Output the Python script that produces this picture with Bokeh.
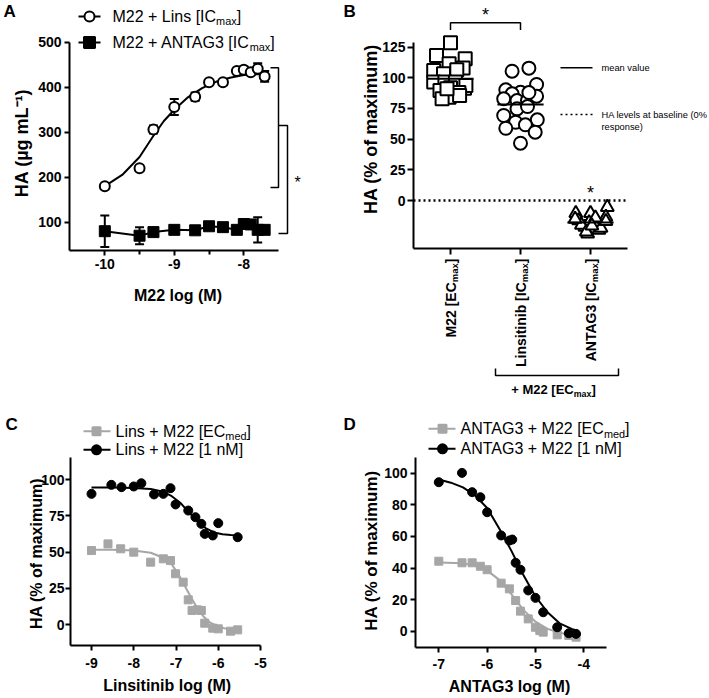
import numpy as np
from math import pi
from bokeh.plotting import figure
from bokeh.models import Range1d, FixedTicker, Label, Whisker, TeeHead, ColumnDataSource
from bokeh.layouts import column, row
from bokeh.embed import file_html
from bokeh.resources import INLINE

FONT = "Liberation Sans"
GREY = "#a6a6a6"
SUB = 0.68

# ---------------- Panel A data ----------------
a_log_m22 = [-10.0, -9.5, -9.3, -9.0, -8.7, -8.5, -8.3, -8.1, -8.0, -7.9, -7.8, -7.7]
a_lins_ha = [180, 220, 306, 356, 379, 411, 411, 436, 439, 433, 441, 424]
a_lins_err = [0, 6, 9, 18, 9, 4, 0, 0, 7, 0, 12, 12]
a_antag_ha = [80, 70, 78, 83, 82, 91, 89, 83, 96, 95, 83, 83]
a_antag_err = [35, 19, 4, 4, 3, 4, 4, 3, 4, 3, 28, 4]
a_fit_log = [-10.0, -9.75, -9.5, -9.3, -9.15, -9.0, -8.8, -8.6, -8.4, -8.2, -8.0, -7.8, -7.7]
a_fit_ha = [180, 205, 245, 292, 325, 350, 378, 398, 412, 421, 427, 430, 431]
a_xticks = [-10, -9, -8]
a_xminor = [-9.5, -8.5]
a_yticks = [100, 200, 300, 400, 500]
a_sig_lins = [443, 177]
a_sig_join = [315, 75]
a_legend = [[("M22 + Lins [IC", False), ("max", True), ("]", False)],
            [("M22 + ANTAG3 [IC", False), ("max", True), ("]", False)]]

# ---------------- Panel B data ----------------
b_tick_main = ["M22 [EC", "Linsitinib [IC", "ANTAG3 [IC"]
b_tick_sub = ["max", "max", "max"]
b_m22 = [128.6, 118.2, 115.5, 111.4, 108.0, 106.0, 103.3, 106.5, 91.5, 96.5,
         96.5, 96.5, 93.7, 89.7, 92.0, 88.0, 84.2, 85.6, 82.9, 91.0]
b_m22_jit = [0.0, -0.20, 0.21, -0.02, 0.18, -0.24, -0.10, 0.09, 0.20, -0.24,
             -0.08, 0.07, 0.22, -0.15, 0.0, 0.12, -0.02, 0.13, -0.12, -0.05]
b_lins = [105.4, 107.9, 90.2, 88.3, 94.6, 87.0, 82.9, 81.5, 81.5, 85.0,
          69.3, 74.7, 76.6, 65.8, 63.8, 58.9, 61.7, 55.7, 46.7, 88.0]
b_lins_jit = [-0.12, 0.12, -0.21, 0.0, 0.23, -0.12, -0.24, -0.05, 0.10, 0.23,
              -0.24, -0.05, 0.10, 0.24, -0.07, -0.21, 0.07, 0.21, 0.0, 0.12]
b_antag = [-10.3, -10.3, -5.4, -16.3, -21.7, -23.0, -19.3, -16.8, -18.0, -27.2,
           -24.0, -13.5, -20.0, -15.0, -18.5, -22.5, -17.0, -25.5, -14.0, -20.5]
b_antag_jit = [-0.21, 0.0, 0.24, -0.17, -0.08, 0.0, 0.09, 0.19, -0.02, -0.04,
               0.12, 0.22, -0.13, -0.22, 0.05, 0.15, 0.22, -0.06, 0.07, 0.02]
b_yticks = [0, 25, 50, 75, 100, 125]
b_sig_top = 145
b_sig_drop = 139

# ---------------- Panel C data ----------------
c_log_1nm = [-9.0, -8.53, -8.29, -8.0, -7.82, -7.52, -7.30, -7.13, -7.01, -6.71, -6.54, -6.40, -6.32, -6.13, -6.0, -5.54]
c_ha_1nm = [90.1, 96.3, 94.7, 95.2, 97.4, 89.7, 90.1, 94.0, 82.8, 78.6, 74.0, 69.4, 62.5, 61.4, 69.9, 60.2]
c_log_med = [-9.0, -8.61, -8.31, -8.0, -7.60, -7.30, -7.13, -7.01, -6.83, -6.71, -6.62, -6.50, -6.40, -6.32, -6.13, -6.0, -5.71, -5.54]
c_ha_med = [51.0, 55.6, 52.2, 49.9, 43.0, 45.3, 44.1, 35.0, 29.2, 17.0, 9.7, 10.1, 9.7, 0.9, -2.5, -3.0, -4.6, -3.7]
c_fit_log_1nm = [-9.0, -8.5, -8.0, -7.6, -7.3, -7.1, -6.9, -6.7, -6.5, -6.3, -6.1, -5.9, -5.7, -5.54]
c_fit_ha_1nm = [94.5, 94.5, 94.2, 93.5, 91.5, 88.5, 84.0, 77.5, 71.5, 66.5, 63.5, 62.3, 61.8, 61.5]
c_fit_log_med = [-9.0, -8.5, -8.0, -7.6, -7.3, -7.1, -6.95, -6.8, -6.65, -6.5, -6.35, -6.2, -6.0, -5.8, -5.54]
c_fit_ha_med = [51.5, 51.5, 51.0, 49.5, 46.0, 41.5, 35.0, 27.0, 19.0, 11.5, 5.5, 1.5, -1.5, -3.0, -3.8]
c_xticks = [-9, -8, -7, -6, -5]
c_yticks = [0, 25, 50, 75, 100]
c_legend = [[("Lins + M22 [EC", False), ("med", True), ("]", False)],
            [("Lins + M22 [1 nM]", False)]]

# ---------------- Panel D data ----------------
d_log_1nm = [-7.0, -6.52, -6.31, -6.14, -6.0, -5.71, -5.54, -5.48, -5.41, -5.31, -5.15, -5.0, -4.84, -4.55, -4.31, -4.16]
d_ha_1nm = [94.3, 100.2, 88.0, 84.8, 75.3, 60.6, 57.4, 58.0, 43.3, 38.9, 25.8, 21.1, 12.0, 2.5, -1.3, -1.7]
d_log_med = [-7.0, -6.52, -6.31, -6.14, -6.0, -5.71, -5.54, -5.41, -5.31, -5.15, -5.0, -4.91, -4.84, -4.55, -4.31, -4.16]
d_ha_med = [44.3, 43.3, 43.3, 41.1, 38.9, 30.4, 26.8, 19.4, 12.7, 7.8, 2.5, 0.4, -0.6, -2.3, -2.7, -3.8]
d_fit_log_1nm = [-7.0, -6.75, -6.5, -6.25, -6.0, -5.75, -5.5, -5.25, -5.0, -4.75, -4.5, -4.25, -4.1]
d_fit_ha_1nm = [96.0, 94.0, 91.0, 86.0, 78.0, 65.0, 51.0, 35.5, 22.0, 12.0, 5.0, 1.5, 0.0]
d_fit_log_med = [-7.0, -6.5, -6.25, -6.0, -5.75, -5.5, -5.25, -5.0, -4.75, -4.5, -4.25, -4.1]
d_fit_ha_med = [43.5, 43.0, 41.5, 38.5, 32.5, 23.5, 13.5, 6.0, 1.5, -1.0, -2.5, -3.0]
d_xticks = [-7, -6, -5, -4]
d_yticks = [0, 20, 40, 60, 80, 100]
d_legend = [[("ANTAG3 + M22 [EC", False), ("med", True), ("]", False)],
            [("ANTAG3 + M22 [1 nM]", False)]]

# ---------------- helpers ----------------
REG = {" ": 278, "+": 584, "[": 278, "]": 278, "(": 333, ")": 333, "%": 889, "-": 333,
       "A": 667, "C": 722, "E": 667, "G": 778, "H": 722, "I": 278, "L": 556, "M": 833,
       "N": 722, "T": 611, "a": 556, "b": 556, "d": 556, "e": 556, "i": 222, "l": 222,
       "m": 833, "n": 556, "o": 556, "p": 556, "r": 333, "s": 500, "t": 278, "u": 556,
       "v": 500, "x": 500}
BLD = {" ": 278, "+": 584, "[": 333, "]": 333, "(": 333, ")": 333, "%": 889, "-": 333,
       "A": 722, "C": 722, "E": 667, "G": 778, "H": 722, "I": 278, "L": 611, "M": 833,
       "N": 722, "T": 611, "a": 556, "b": 611, "d": 611, "e": 556, "i": 278, "l": 278,
       "m": 889, "n": 611, "o": 611, "s": 556, "t": 333, "x": 556}
KERN = {"TA": -70, "AT": -70}


def tw(s, size, bold):
    t = BLD if bold else REG
    w = sum(t.get(ch, 556) for ch in s)
    w += sum(KERN.get(s[k:k + 2], 0) for k in range(len(s) - 1))
    return w * size / 1000.0


class Geo:
    """maps reference pixel positions to data values of one panel"""
    def __init__(self, xpx, xval, xs, ypx, yval, ys):
        self.xpx, self.xval, self.xs = xpx, xval, xs
        self.ypx, self.yval, self.ys = ypx, yval, ys

    def x(self, px):
        return self.xval + (px - self.xpx) / self.xs

    def y(self, py):
        return self.yval + (self.ypx - py) / self.ys


def make_fig(g, cl, ct, w, h):
    p = figure(width=w, height=h, output_backend="svg", toolbar_location=None,
               x_range=Range1d(g.x(cl), g.x(cl + w)), y_range=Range1d(g.y(ct + h), g.y(ct)),
               min_border_left=0, min_border_right=0, min_border_top=0, min_border_bottom=0)
    p.grid.visible = False
    p.outline_line_color = None
    p.background_fill_color = "white"
    p.border_fill_color = "white"
    return p


def style(p, g, xticks, yticks, axis_x_px, axis_y_px, xend_px, ytop_px, xminor=(),
          xstand=2, ystand=2, tick_out=5):
    p.xaxis.ticker = FixedTicker(ticks=list(xticks), minor_ticks=list(xminor))
    p.yaxis.ticker = FixedTicker(ticks=list(yticks))
    p.xaxis.fixed_location = g.y(axis_y_px)
    p.yaxis.fixed_location = g.x(axis_x_px)
    p.xaxis.bounds = (g.x(axis_x_px), g.x(xend_px))
    p.yaxis.bounds = (g.y(axis_y_px), g.y(ytop_px))
    p.xaxis.major_label_overrides = {t: f"{t:g}" for t in xticks}
    p.yaxis.major_label_overrides = {t: f"{t:g}" for t in yticks}
    for ax in (p.xaxis[0], p.yaxis[0]):
        ax.axis_line_width = 2
        ax.axis_line_color = "black"
        ax.major_tick_line_width = 2
        ax.major_tick_line_color = "black"
        ax.major_tick_in = 0
        ax.major_tick_out = tick_out
        ax.minor_tick_line_width = 2
        ax.minor_tick_line_color = "black"
        ax.minor_tick_in = 0
        ax.minor_tick_out = 4
        ax.major_label_text_font = FONT
        ax.major_label_text_font_style = "bold"
        ax.major_label_text_font_size = "14px"
        ax.major_label_text_color = "black"
    p.xaxis.major_label_standoff = xstand
    p.yaxis.major_label_standoff = ystand


def rich(p, x, y, pieces, size, bold=False, vertical=False, dx=0.0, dy=0.0):
    """text pieces centred (middle) on the main line; subscripts drop below"""
    adv = 0.0
    for s, sub in pieces:
        fs = size * SUB if sub else size
        shift = 0.31 * size if sub else 0.0
        kw = dict(x=x, y=y, text=s, text_font=FONT, text_font_size=f"{fs:.2f}px",
                  text_font_style="bold" if bold else "normal", text_color="black",
                  text_align="left", text_baseline="middle")
        if vertical:
            p.add_layout(Label(x_offset=dx + shift, y_offset=dy + adv, angle=pi / 2, **kw))
        else:
            p.add_layout(Label(x_offset=dx + adv, y_offset=dy - shift, **kw))
        adv += tw(s, fs, bold)
    return adv


def rich_width(pieces, size, bold):
    return sum(tw(s, size * SUB if sub else size, bold) for s, sub in pieces)


def plain(p, x, y, s, size, bold=False, align="left", angle=0.0):
    p.add_layout(Label(x=x, y=y, text=s, text_font=FONT, text_font_size=f"{size}px",
                       text_font_style="bold" if bold else "normal", text_color="black",
                       text_align=align, text_baseline="middle", angle=angle))


def whisk(p, xs, ys, es):
    xs, ys, es = (np.asarray(v, dtype=float) for v in (xs, ys, es))
    m = es > 0
    src = ColumnDataSource(dict(x=xs[m], lo=ys[m] - es[m], hi=ys[m] + es[m]))
    w = Whisker(source=src, base="x", lower="lo", upper="hi", line_width=2, line_color="black",
                upper_head=TeeHead(size=9, line_width=2, line_color="black"),
                lower_head=TeeHead(size=9, line_width=2, line_color="black"), level="underlay")
    p.add_layout(w)


def legend_row(p, g, ypx, x0, x1, xm, xt, marker, msize, color, fill, pieces, fsize):
    yv = g.y(ypx)
    p.line([g.x(x0), g.x(x1)], [yv, yv], line_color=color, line_width=2)
    p.scatter([g.x(xm)], [yv], marker=marker, size=msize, line_color=color,
              fill_color=fill, line_width=2)
    rich(p, g.x(xt), yv, pieces, fsize)


# ---------------- Panel A ----------------
gA = Geo(104.3, -10.0, 69.5, 221.7, 100.0, 0.45)
pA = make_fig(gA, 0, 0, 340, 400)
style(pA, gA, a_xticks, a_yticks, 69, 250, 278, 41.7, xminor=a_xminor, xstand=3, ystand=3)
whisk(pA, a_log_m22, a_lins_ha, a_lins_err)
whisk(pA, a_log_m22, a_antag_ha, a_antag_err)
pA.line(a_fit_log, a_fit_ha, line_color="black", line_width=2)
pA.line(a_log_m22, a_antag_ha, line_color="black", line_width=2)
pA.scatter(a_log_m22, a_antag_ha, marker="square", size=11, fill_color="black", line_color="black")
pA.scatter(a_log_m22, a_lins_ha, marker="circle", size=10, fill_color="white", line_color="black", line_width=2)
xi, xb1, xb2 = gA.x(270), gA.x(278), gA.x(287)
pA.line([xi, xb1, xb1, xi], [a_sig_lins[0], a_sig_lins[0], a_sig_lins[1], a_sig_lins[1]],
        line_color="black", line_width=1.5)
pA.line([xb1, xb2, xb2, xb1], [a_sig_join[0], a_sig_join[0], a_sig_join[1], a_sig_join[1]],
        line_color="black", line_width=1.5)
plain(pA, gA.x(297), gA.y(181.5), "*", 16, align="center")
legend_row(pA, gA, 16, 78, 100, 89, 112, "circle", 10, "black", "white", a_legend[0], 16)
legend_row(pA, gA, 42, 78, 100, 89, 112, "square", 11, "black", "black", a_legend[1], 16)
plain(pA, gA.x(3), gA.y(11), "A", 17, bold=True)
plain(pA, gA.x(177.5), gA.y(294.5), "M22 log (M)", 16, bold=True, align="center")
plain(pA, gA.x(21.5), gA.y(142.5), "HA (µg mL⁻¹)", 18, bold=True, align="center", angle=pi / 2)

# ---------------- Panel B ----------------
gB = Geo(450, 0.0, 70, 200, 0.0, 1.2267)
pB = make_fig(gB, 340, 0, 368, 400)
style(pB, gB, [0, 1, 2], b_yticks, 413, 248, 627, 41.7, ystand=2, tick_out=6)
pB.xaxis.major_label_overrides = {0: "", 1: "", 2: ""}
pB.segment(x0=[gB.x(413)], y0=[0], x1=[gB.x(625)], y1=[0], line_color="black",
           line_width=2.5, line_dash="2 3")
groups = [(b_m22, b_m22_jit, "square"), (b_lins, b_lins_jit, "circle"), (b_antag, b_antag_jit, "triangle")]
for i, (vals, jit, mk) in enumerate(groups):
    xs = [i + j for j in jit]
    pB.scatter(xs, vals, marker=mk, size=13, fill_color="white", line_color="black", line_width=2)
for i, (vals, jit, mk) in enumerate(groups):
    m = float(np.mean(vals))
    pB.segment(x0=[i - 0.33], y0=[m], x1=[i + 0.33], y1=[m], line_color="black", line_width=2)
pB.line([0, 0, 1, 1], [b_sig_drop, b_sig_top, b_sig_top, b_sig_drop], line_color="black", line_width=1.5)
plain(pB, 0.5, gB.y(14), "*", 18, align="center")
plain(pB, 2, gB.y(192), "*", 18, align="center")
for i in range(3):
    pieces = [(b_tick_main[i], False), (b_tick_sub[i], True), ("]", False)]
    tot = rich_width(pieces, 14, True)
    rich(pB, i, gB.y(258), pieces, 14, bold=True, vertical=True, dx=0, dy=-tot)
bx0, bx1 = gB.x(495), gB.x(618)
by0, by1 = gB.y(368), gB.y(375)
pB.line([bx0, bx0, bx1, bx1], [by0, by1, by1, by0], line_color="black", line_width=1.5)
bp = [("+ M22 [EC", False), ("max", True), ("]", False)]
bw = rich_width(bp, 13, True)
rich(pB, gB.x(553 - bw / 2), gB.y(389), bp, 13, bold=True)
pB.segment(x0=[gB.x(560)], y0=[gB.y(67.3)], x1=[gB.x(592)], y1=[gB.y(67.3)], line_color="black", line_width=1.5)
pB.segment(x0=[gB.x(560)], y0=[gB.y(114)], x1=[gB.x(592)], y1=[gB.y(114)], line_color="black",
           line_width=1.5, line_dash="2 3")
plain(pB, gB.x(601), gB.y(67.3), "mean value", 9.3)
plain(pB, gB.x(601), gB.y(114), "HA levels at baseline (0%", 9.3)
plain(pB, gB.x(601), gB.y(126), "response)", 9.3)
plain(pB, gB.x(343), gB.y(11), "B", 17, bold=True)
plain(pB, gB.x(370.5), gB.y(128.5), "HA (% of maximum)", 18, bold=True, align="center", angle=pi / 2)

# ---------------- Panel C ----------------
gC = Geo(91, -9.0, 42.25, 624, 0.0, 1.45)
pC = make_fig(gC, 0, 400, 340, 297)
style(pC, gC, c_xticks, c_yticks, 70, 645, 260, 456.7, xstand=7, ystand=1)
pC.line(c_fit_log_med, c_fit_ha_med, line_color=GREY, line_width=2)
pC.line(c_fit_log_1nm, c_fit_ha_1nm, line_color="black", line_width=2)
pC.scatter(c_log_med, c_ha_med, marker="square", size=8, fill_color=GREY, line_color=GREY)
pC.scatter(c_log_1nm, c_ha_1nm, marker="circle", size=9, fill_color="black", line_color="black")
legend_row(pC, gC, 430.7, 83, 110, 96, 115, "square", 8, GREY, GREY, c_legend[0], 16)
legend_row(pC, gC, 449.3, 83, 110, 96, 115, "circle", 9, "black", "black", c_legend[1], 16)
plain(pC, gC.x(5), gC.y(424), "C", 17, bold=True)
plain(pC, gC.x(166.7), gC.y(684.5), "Linsitinib log (M)", 16, bold=True, align="center")
plain(pC, gC.x(35.5), gC.y(553), "HA (% of maximum)", 16, bold=True, align="center", angle=pi / 2)

# ---------------- Panel D ----------------
gD = Geo(438.3, -7.0, 48.33, 630.7, 0.0, 1.58)
pD = make_fig(gD, 340, 400, 368, 297)
style(pD, gD, d_xticks, d_yticks, 415, 646.7, 605.7, 456.7, xstand=7, ystand=3)
pD.line(d_fit_log_med, d_fit_ha_med, line_color=GREY, line_width=2)
pD.line(d_fit_log_1nm, d_fit_ha_1nm, line_color="black", line_width=2)
pD.scatter(d_log_med, d_ha_med, marker="square", size=8, fill_color=GREY, line_color=GREY)
pD.scatter(d_log_1nm, d_ha_1nm, marker="circle", size=9, fill_color="black", line_color="black")
legend_row(pD, gD, 428.3, 428, 455, 442, 460, "square", 8, GREY, GREY, d_legend[0], 16)
legend_row(pD, gD, 448.3, 428, 455, 442, 460, "circle", 9, "black", "black", d_legend[1], 16)
plain(pD, gD.x(343), gD.y(424), "D", 17, bold=True)
plain(pD, gD.x(509), gD.y(686), "ANTAG3 log (M)", 16, bold=True, align="center")
plain(pD, gD.x(370.5), gD.y(550), "HA (% of maximum)", 17, bold=True, align="center", angle=pi / 2)

layout = column(row(pA, pB), row(pC, pD))
open("out.html", "w").write(file_html(layout, INLINE))
